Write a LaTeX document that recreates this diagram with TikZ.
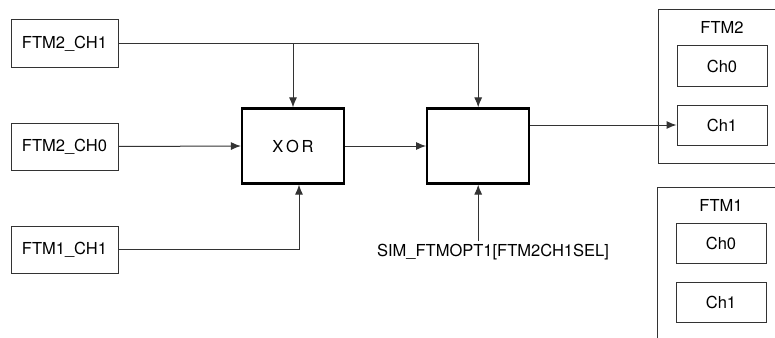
\documentclass[tikz,border=0pt]{standalone}
\usepackage{fontspec}
\setmainfont{TeX Gyre Heros}
\usetikzlibrary{arrows.meta,positioning}
\begin{document}
\begin{tikzpicture}[x=1pt, y=-1pt, node distance=18pt, font=\fontsize{16.5}{19}\selectfont, >={Latex[length=10pt,width=8pt]}]
\tikzstyle{src}=[draw=black!80, line width=1pt, minimum width=107pt, minimum height=47pt, inner sep=0pt]
\tikzstyle{blk}=[draw=black, line width=2.2pt, minimum width=102pt, minimum height=75pt, inner sep=0pt]
\tikzstyle{chan}=[draw=black!80, line width=1pt, minimum width=90pt, minimum height=40pt, inner sep=0pt]
\tikzstyle{grp}=[draw=black!80, line width=1pt, minimum width=140pt, anchor=north west, inner sep=0pt]
\tikzstyle{wire}=[draw=black!80, line width=1pt]
\useasboundingbox (0,0) rectangle (775,337);
\clip (0,0) rectangle (775,337);
\node[grp, minimum height=154pt] (ftm2) at (658,9) {};
\node[grp, minimum height=170pt] (ftm1) at (657,187) {};
\node (ftm2lbl) at (722,27) {FTM2};
\node (ftm1lbl) at (721,205) {FTM1};
\node[chan] (ftm2ch0) at (722,66) {Ch0};
\node[chan, below=of ftm2ch0] (ftm2ch1) {Ch1};
\node[chan] (ftm1ch0) at (721,243) {Ch0};
\node[chan, below=of ftm1ch0] (ftm1ch1) {Ch1};
\node[src] (ch21) at (64.5,43.5) {FTM2\_CH1};
\node[src, below=55pt of ch21] (ch20) {FTM2\_CH0};
\node[src, below=55pt of ch20] (ch11) {FTM1\_CH1};
\node[blk] (xor) at (293,146) {X\,O\,R};
\node[blk, right=81pt of xor] (sel) {};
\node (sim) at (493,252) {SIM\_FTMOPT1[FTM2CH1SEL]};
\draw[wire, ->] (ch21.east) -| (sel.north);
\draw[wire, ->] (ch21.east -| xor.north) -- (xor.north);
\draw[wire, ->] (ch20.east) -- (xor.west);
\draw[wire, ->] (ch11.east) -| ([xshift=6pt]xor.south);
\draw[wire, ->] (xor.east) -- (sel.west);
\draw[wire, ->] (ftm2ch1.west -| sel.east) -- (ftm2ch1.west);
\draw[wire, ->] (sim.north -| sel.south) -- (sel.south);
\end{tikzpicture}
\end{document}
